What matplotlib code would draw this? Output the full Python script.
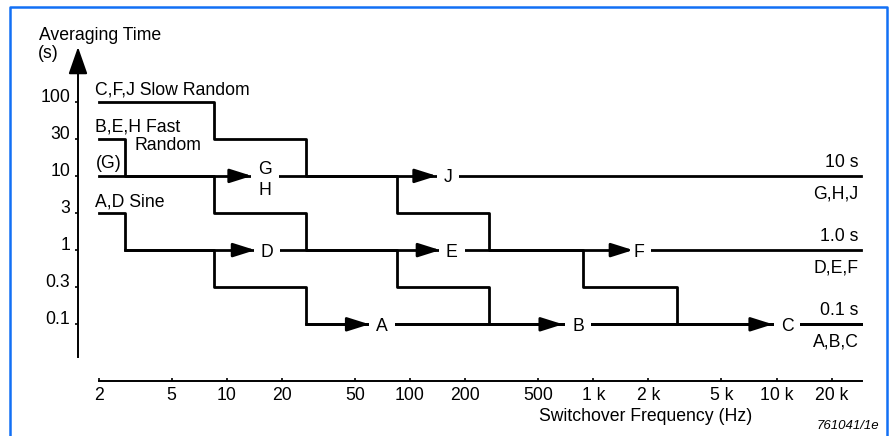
import matplotlib
matplotlib.use("Agg")
import matplotlib.pyplot as plt
from matplotlib.lines import Line2D

plt.rcParams['font.family'] = ['Liberation Sans', 'DejaVu Sans']
plt.rcParams['font.size'] = 12.7

# averaging time levels (equally spaced on the chart)
time_labels = ['0.1', '0.3', '1', '3', '10', '30', '100']
freq_ticks = [2, 5, 10, 20, 50, 100, 200, 500, 1000, 2000, 5000, 10000, 20000]
freq_labels = ['2', '5', '10', '20', '50', '100', '200', '500',
               '1 k', '2 k', '5 k', '10 k', '20 k']

# auto modes: switchover frequency -> averaging time
slow_freq = [2, 8.5, 27, 85, 270, 880, 2850]
slow_time = ['100', '30', '10', '3', '1', '0.3', '0.1']
fast_freq = [2, 2.78, 8.5, 27, 85, 270]
fast_time = ['30', '10', '3', '1', '0.3', '0.1']
sine_freq = [2, 2.78, 8.5, 27]
sine_time = ['3', '1', '0.3', '0.1']

# fixed averaging times
fixed_time = ['10', '1', '0.1']
fixed_start = [2, 2.78, 27]
fixed_top = ['10 s', '1.0 s', '0.1 s']
fixed_bottom = ['G,H,J', 'D,E,F', 'A,B,C']
f_end = 29000

# arrows into the mode letters
arrow_freq = [13.7, 140, 14.3, 146, 1650, 60, 683, 9550]
arrow_time = ['10', '10', '1', '1', '1', '0.1', '0.1', '0.1']
mode_names = ['G\nH', 'J', 'D', 'E', 'F', 'A', 'B', 'C']
mode_freq = [16.2, 161, 16.6, 169, 1777, 70.3, 826, 11400]
mode_time = ['10', '10', '1', '1', '1', '0.1', '0.1', '0.1']

lvl = {t: i for i, t in enumerate(time_labels)}

fig = plt.figure(figsize=(8.9, 4.36), dpi=100)
ax = fig.add_axes([78/890, 55/436, 792/890, 341/436])
ax.set_xscale('log')
ax.set_xlim(1.5424, 32363)
ax.set_ylim(-1.528, 7.663)
ax.patch.set_alpha(0)

lw = 2.0
for fr, tm in [(slow_freq, slow_time), (fast_freq, fast_time), (sine_freq, sine_time)]:
    ax.step(fr + [f_end], [lvl[t] for t in tm] + [lvl[tm[-1]]],
            where='post', color='black', lw=lw, zorder=2)

for t, s in zip(fixed_time, fixed_start):
    ax.plot([s, f_end], [lvl[t], lvl[t]], color='black', lw=lw, zorder=2)

for f, t in zip(arrow_freq, arrow_time):
    ax.annotate('', xy=(f, lvl[t]), xytext=(f / 1.3, lvl[t]),
                arrowprops=dict(arrowstyle='-|>,head_length=0.95,head_width=0.3',
                                mutation_scale=14, color='black', lw=lw,
                                shrinkA=0, shrinkB=0), zorder=5)

for name, f, t in zip(mode_names, mode_freq, mode_time):
    ax.text(f, lvl[t], name, ha='center', va='center_baseline', linespacing=1.3,
            bbox=dict(fc='white', ec='none', pad=5), zorder=4)

for t, top, bot in zip(fixed_time, fixed_top, fixed_bottom):
    ax.text(28000, lvl[t] + 0.24, top, ha='right', va='baseline')
    ax.text(28000, lvl[t] - 0.61, bot, ha='right', va='baseline')

ax.text(1.92, 6.207, 'C,F,J Slow Random', va='baseline')
ax.text(1.92, 5.21, 'B,E,H Fast', va='baseline')
ax.text(3.155, 4.698, 'Random', va='baseline')
ax.text(1.92, 4.213, '(G)', va='baseline')
ax.text(1.92, 3.175, 'A,D Sine', va='baseline')

# axes
for s in ['top', 'right']:
    ax.spines[s].set_visible(False)
ax.spines['left'].set_bounds(-0.876, 7.2)
ax.spines['bottom'].set_bounds(2, 29160)
for s in ['left', 'bottom']:
    ax.spines[s].set_linewidth(1.4)
ax.annotate('', xy=(0, 7.474), xytext=(0, 6.9), xycoords=('axes fraction', 'data'),
            arrowprops=dict(arrowstyle='-|>,head_length=1.2,head_width=0.42',
                            mutation_scale=14, color='black', lw=1.4,
                            shrinkA=0, shrinkB=0))

ax.set_xticks(freq_ticks)
ax.set_xticklabels(freq_labels)
ax.xaxis.set_minor_locator(matplotlib.ticker.NullLocator())
ax.tick_params(axis='x', direction='in', length=2.5, width=1.2, pad=4)
ax.set_yticks(range(len(time_labels)))
ax.set_yticklabels(time_labels)
ax.tick_params(axis='y', direction='out', length=2, width=1.2, pad=3.5)
for lb in ax.get_yticklabels():
    lb.set_va('baseline')

fig.text(39/890, 1 - 40/436, 'Averaging Time', va='baseline')
fig.text(38/890, 1 - 58/436, '(s)', va='baseline')
fig.text(646/890, 1 - 421/436, 'Switchover Frequency (Hz)', ha='center', va='baseline')
fig.text(879/890, 1 - 429/436, '761041/1e', ha='right', va='baseline',
         style='italic', fontsize=9.5)

# blue frame, open at the bottom
blue = '#1270f5'
fig.add_artist(Line2D([10/890, 10/890, 887/890, 887/890],
                      [0, 1 - 7/436, 1 - 7/436, 0], color=blue, lw=1.8,
                      transform=fig.transFigure))

fig.savefig('out.png', dpi=100)
